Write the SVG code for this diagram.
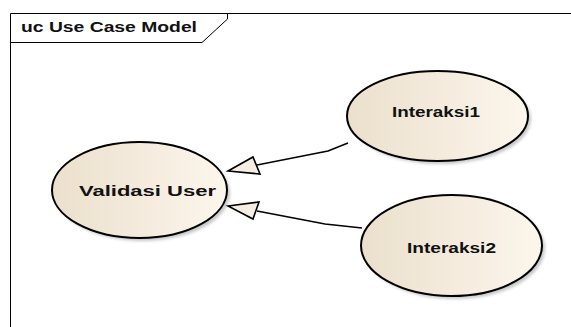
<svg xmlns="http://www.w3.org/2000/svg" width="571" height="327" viewBox="0 0 571 327">
  <style>
    .frame { fill: none; stroke: #000; stroke-width: 1; }
    .uc { fill: url(#ucFill); stroke: #000; stroke-width: 2; }
    .shadow { fill: #9a9a9a; opacity: 0.55; filter: url(#soft); }
    .label { font-family: "Liberation Sans", Arial, sans-serif; font-weight: bold; font-size: 14px; fill: #111; }
    .edge { fill: none; stroke: #000; stroke-width: 1.6; }
    .head { fill: #F6EEE2; stroke: #000; stroke-width: 1.6; stroke-linejoin: miter; }
  </style>
  <defs>
    <linearGradient id="ucFill" x1="0" y1="0" x2="1" y2="0">
      <stop offset="0" stop-color="#EBE0CC"/>
      <stop offset="0.6" stop-color="#F6EDE0"/>
      <stop offset="1" stop-color="#FCF6EC"/>
    </linearGradient>
    <filter id="soft" x="-10%" y="-10%" width="120%" height="120%">
      <feGaussianBlur stdDeviation="1.5"/>
    </filter>
  </defs>

  <!-- diagram frame with name tab -->
  <g id="frame">
    <rect x="0" y="0" width="571" height="327" fill="#fff"/>
    <path class="frame" d="M10.5,327 V13.5 H571"/>
    <path class="frame" d="M10.5,42.5 H202 L227.5,19 V13.5"/>
    <text class="label" x="21" y="32" textLength="176" lengthAdjust="spacingAndGlyphs">uc Use Case Model</text>
  </g>

  <!-- use cases -->
  <g id="validasi-user">
    <ellipse class="shadow" cx="142.5" cy="193" rx="87.5" ry="48"/>
    <ellipse class="uc" cx="139.5" cy="190" rx="87.5" ry="48"/>
    <text class="label" x="79" y="196" textLength="137" lengthAdjust="spacingAndGlyphs">Validasi User</text>
  </g>

  <g id="interaksi1">
    <ellipse class="shadow" cx="440.5" cy="119" rx="90.5" ry="45"/>
    <ellipse class="uc" cx="437.5" cy="116" rx="90.5" ry="45"/>
    <text class="label" x="392" y="117" textLength="88" lengthAdjust="spacingAndGlyphs">Interaksi1</text>
  </g>

  <g id="interaksi2">
    <ellipse class="shadow" cx="454.5" cy="248.5" rx="90.5" ry="50.5"/>
    <ellipse class="uc" cx="451.5" cy="245.5" rx="90.5" ry="50.5"/>
    <text class="label" x="407" y="253" textLength="89" lengthAdjust="spacingAndGlyphs">Interaksi2</text>
  </g>

  <!-- generalization connectors -->
  <g id="connectors">
    <path class="edge" d="M348,143 L328,151 L257,165"/>
    <polygon class="head" points="228,171 253,157 260,174"/>
    <path class="edge" d="M362,228 L325,224 L257,211"/>
    <polygon class="head" points="228,206 259,202 253,219"/>
  </g>
</svg>
